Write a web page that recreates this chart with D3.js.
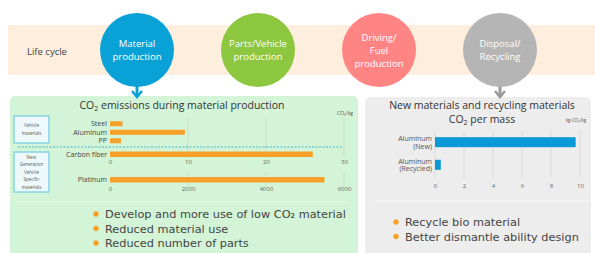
<!DOCTYPE html>
<html>
<head>
<meta charset="utf-8">
<script src="https://cdn.jsdelivr.net/npm/d3@7"></script>
<style>
  body { margin: 0; background: #fff; }
  svg { display: block; }
</style>
</head>
<body>
<svg width="595" height="253"></svg>
<script>
  // life cycle stages
  const stages = ["Material\nproduction", "Parts/Vehicle\nproduction", "Driving/\nFuel\nproduction", "Disposal/\nRecycling"];
  const stageColors = ["#0aa2d6", "#8dc63f", "#ff8585", "#b5b5b5"];

  // CO2 per kg, material production (0-30 axis)
  const vehicleMaterials = ["Steel", "Aluminum", "PP"];
  const vehicleValues = [1.6, 9.6, 1.4];
  const fiberMaterials = ["Carbon fiber"];
  const fiberValues = [26];
  const co2Ticks = [0, 10, 20, 30];

  // platinum (0-6000 axis)
  const platinumMaterials = ["Platinum"];
  const platinumValues = [5500];
  const platinumTicks = [0, 2000, 4000, 6000];

  // new vs recycled aluminium
  const alumLabels = ["Aluminum\n(New)", "Aluminum\n(Recycled)"];
  const alumValues = [9.7, 0.4];
  const alumTicks = [0, 2, 4, 6, 8, 10];

  const leftBullets = ["Develop and more use of low CO₂ material", "Reduced material use", "Reduced number of parts"];
  const rightBullets = ["Recycle bio material", "Better dismantle ability design"];

  const svg = d3.select("svg");
  const font = "'Open Sans', sans-serif";
  const orange = "#f7a12b";

  // top band
  svg.append("rect").attr("x", 8).attr("y", 25).attr("width", 587).attr("height", 50).attr("fill", "#fdeedd");
  svg.append("text").attr("x", 27).attr("y", 55).attr("font-family", font).attr("font-size", 9.5)
    .attr("fill", "#444").text("Life cycle");

  // panels
  svg.append("rect").attr("x", 10).attr("y", 96).attr("width", 348).attr("height", 160).attr("rx", 5).attr("fill", "#d3f4d7");
  svg.append("rect").attr("x", 365).attr("y", 97).attr("width", 226).attr("height", 159).attr("rx", 5).attr("fill", "#ededed");

  // arrows under first and last circle
  const arrow = (cx, color) => {
    svg.append("line").attr("x1", cx).attr("x2", cx).attr("y1", 84).attr("y2", 97)
      .attr("stroke", color).attr("stroke-width", 3);
    svg.append("path").attr("d", `M${cx - 5},${91} L${cx},${97} L${cx + 5},${91}`)
      .attr("fill", "none").attr("stroke", color).attr("stroke-width", 2.5);
  };
  arrow(137, stageColors[0]);
  arrow(500, "#999");

  const stageX = d3.scalePoint().domain(stages).range([137, 500]);
  const circles = svg.selectAll("g.stage").data(stages).join("g").attr("class", "stage")
    .attr("transform", d => `translate(${stageX(d)},50)`);
  circles.append("circle").attr("r", 37).attr("fill", (d, i) => stageColors[i]);
  circles.each(function (d) {
    const lines = d.split("\n");
    d3.select(this).selectAll("text").data(lines).join("text")
      .attr("text-anchor", "middle").attr("font-family", font).attr("font-size", 9.5).attr("fill", "#fff")
      .attr("x", 0).attr("y", (l, i) => (i - (lines.length - 1) / 2) * 13 + 3.5).text(l => l);
  });

  // left panel title
  svg.append("text").attr("x", 182).attr("y", 109).attr("text-anchor", "middle").attr("font-family", font)
    .attr("font-size", 10.5).attr("fill", "#333").html("CO<tspan font-size='7' dy='1.5'>2</tspan><tspan dy='-1.5'> emissions during material production</tspan>");
  svg.append("text").attr("x", 345).attr("y", 115).attr("text-anchor", "middle").attr("font-family", font)
    .attr("font-size", 5).attr("fill", "#555").text("CO₂/kg");

  // category boxes
  const boxes = [
    { y: 116, h: 27, lines: ["Vehicle", "materials"] },
    { y: 152, h: 40, lines: ["Next", "Generation", "Vehicle", "Specific", "materials"] }
  ];
  boxes.forEach(b => {
    svg.append("rect").attr("x", 14).attr("y", b.y).attr("width", 35).attr("height", b.h)
      .attr("fill", "#eef9fb").attr("stroke", "#86d3e8").attr("stroke-width", 1.5);
    svg.append("g").selectAll("text").data(b.lines).join("text")
      .attr("text-anchor", "middle").attr("font-family", font).attr("font-size", 4.5).attr("fill", "#555")
      .attr("x", 31.5).attr("y", (l, i) => b.y + b.h / 2 + (i - (b.lines.length - 1) / 2) * 7.5 + 1.5).text(l => l);
  });

  const x1 = d3.scaleLinear().domain([0, 30]).range([110, 344]);
  const x2 = d3.scaleLinear().domain([0, 6000]).range([110, 344]);

  // gridlines
  svg.append("g").selectAll("line").data(co2Ticks.slice(1)).join("line")
    .attr("x1", d => x1(d)).attr("x2", d => x1(d)).attr("y1", 118).attr("y2", 158)
    .attr("stroke", "#c8d6c8").attr("stroke-width", 0.8);
  svg.append("g").selectAll("line").data(platinumTicks.slice(1)).join("line")
    .attr("x1", d => x2(d)).attr("x2", d => x2(d)).attr("y1", 172).attr("y2", 186)
    .attr("stroke", "#c8d6c8").attr("stroke-width", 0.8);

  // dashed divider
  svg.append("line").attr("x1", 18).attr("x2", 342).attr("y1", 147).attr("y2", 147)
    .attr("stroke", "#3fb6cf").attr("stroke-width", 1).attr("stroke-dasharray", "2,1.5");

  const barGroup = (labels, values, x, y0, step, h) => {
    const y = d3.scaleBand().domain(labels).range([y0, y0 + step * labels.length]);
    const g = svg.append("g");
    g.selectAll("rect").data(values).join("rect")
      .attr("x", x(0)).attr("y", (d, i) => y(labels[i]) + (step - h) / 2)
      .attr("width", d => x(d) - x(0)).attr("height", h).attr("fill", orange);
    g.selectAll("text").data(labels).join("text")
      .attr("x", x(0) - 3).attr("y", d => y(d) + step / 2 + 2.3).attr("text-anchor", "end")
      .attr("font-family", font).attr("font-size", 7).attr("fill", "#444").text(d => d);
  };
  barGroup(vehicleMaterials, vehicleValues, x1, 119.5, 8.5, 5);
  barGroup(fiberMaterials, fiberValues, x1, 150, 8.5, 5.5);
  barGroup(platinumMaterials, platinumValues, x2, 175.5, 8.5, 5.5);

  const styleAxis = g => {
    g.select(".domain").remove();
    g.selectAll(".tick line").remove();
    g.selectAll("text").attr("font-family", font).attr("font-size", 6).attr("fill", "#666");
  };
  svg.append("g").attr("transform", "translate(0,158)")
    .call(d3.axisBottom(x1).tickValues(co2Ticks).tickSize(0).tickPadding(2)).call(styleAxis);
  svg.append("g").attr("transform", "translate(0,185)")
    .call(d3.axisBottom(x2).tickValues(platinumTicks).tickFormat(d3.format("d")).tickSize(0).tickPadding(2)).call(styleAxis);

  // separators
  svg.append("line").attr("x1", 15).attr("x2", 347).attr("y1", 202).attr("y2", 202).attr("stroke", "#e6f7e8").attr("stroke-width", 1.2);
  svg.append("line").attr("x1", 375).attr("x2", 587).attr("y1", 201).attr("y2", 201).attr("stroke", "#f7f7f7").attr("stroke-width", 1.2);

  const bullets = (items, x, y0) => {
    const g = svg.append("g");
    g.selectAll("circle").data(items).join("circle")
      .attr("cx", x).attr("cy", (d, i) => y0 + i * 14.5 - 4).attr("r", 2.7).attr("fill", orange);
    g.selectAll("text").data(items).join("text")
      .attr("x", x + 9).attr("y", (d, i) => y0 + i * 14.5).attr("font-family", "'DejaVu Sans', sans-serif")
      .attr("font-size", 11.3).attr("fill", "#444").text(d => d);
  };
  bullets(leftBullets, 96, 218);
  bullets(rightBullets, 396, 226);

  // right panel
  svg.append("text").attr("x", 482).attr("y", 109).attr("text-anchor", "middle").attr("font-family", font)
    .attr("font-size", 10.5).attr("fill", "#333").text("New materials and recycling materials");
  svg.append("text").attr("x", 482).attr("y", 123).attr("text-anchor", "middle").attr("font-family", font)
    .attr("font-size", 10.5).attr("fill", "#333").html("CO<tspan font-size='7' dy='1.5'>2</tspan><tspan dy='-1.5'> per mass</tspan>");
  svg.append("text").attr("x", 576).attr("y", 122).attr("text-anchor", "middle").attr("font-family", font)
    .attr("font-size", 4.5).attr("fill", "#555").text("kg-CO₂/kg");

  const xr = d3.scaleLinear().domain([0, 10]).range([435, 580]);
  const yr = d3.scaleBand().domain(alumLabels).range([132, 175]).paddingInner(0.1);
  svg.append("g").selectAll("line").data(alumTicks).join("line")
    .attr("x1", d => xr(d)).attr("x2", d => xr(d)).attr("y1", 130).attr("y2", 178)
    .attr("stroke", "#d8d8d8").attr("stroke-width", 0.8);
  svg.append("g").selectAll("rect").data(alumValues).join("rect")
    .attr("x", xr(0)).attr("y", (d, i) => yr(alumLabels[i]) + yr.bandwidth() / 2 - 5)
    .attr("width", d => xr(d) - xr(0)).attr("height", 10).attr("fill", "#0a9ad8");
  alumLabels.forEach(d => {
    const c = yr(d) + yr.bandwidth() / 2;
    svg.append("g").selectAll("text").data(d.split("\n")).join("text")
      .attr("text-anchor", "end").attr("font-family", font).attr("font-size", 7).attr("fill", "#555")
      .attr("x", 432).attr("y", (l, i) => c - 1 + i * 7.5).text(l => l);
  });
  svg.append("g").attr("transform", "translate(0,182)")
    .call(d3.axisBottom(xr).tickValues(alumTicks).tickSize(0).tickPadding(2)).call(styleAxis);
</script>
</body>
</html>
